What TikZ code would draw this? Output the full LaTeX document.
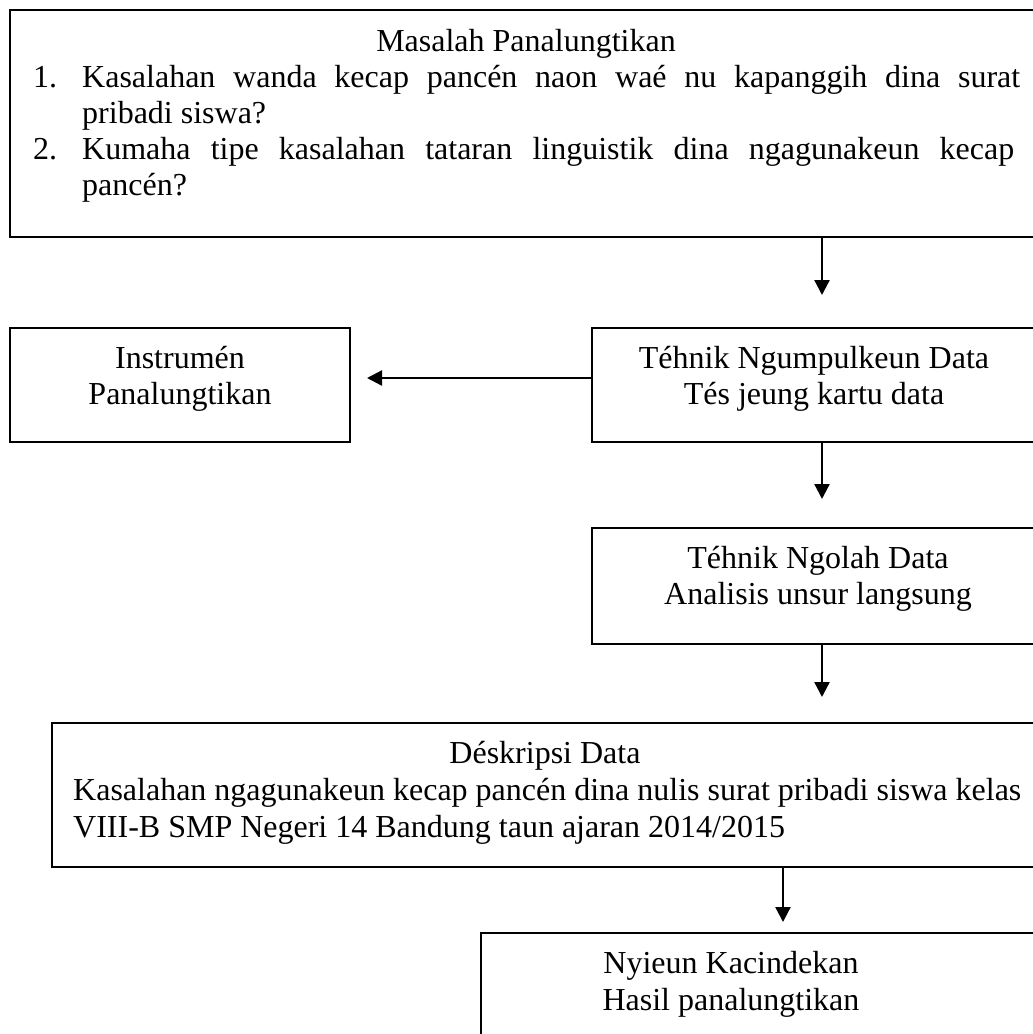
\documentclass[tikz,border=0pt]{standalone}
\usepackage{fontspec}
\setmainfont{Liberation Serif}
\usetikzlibrary{arrows.meta}
\begin{document}
\begin{tikzpicture}[x=1pt,y=1pt,
  box/.style={draw, line width=2.3pt, rectangle, anchor=north west, inner sep=0pt, outer sep=0pt},
  txt/.style={font=\fontsize{32}{36}\selectfont, inner sep=0pt, anchor=base},
  txtl/.style={txt, anchor=base west},
  arr/.style={line width=2.3pt, -{Triangle[length=15pt,width=15pt]}}]
\clip (0,0) rectangle (1033,-1034);
\fill[white] (0,0) rectangle (1033,-1034);
% boxes
\node[box, minimum width=1030pt, minimum height=227pt] (masalah) at (10,-10) {};
\node[box, minimum width=340pt, minimum height=114pt] (instr) at (10,-328) {};
\node[box, minimum width=450pt, minimum height=114pt] (ngum) at (592,-328) {};
\node[box, minimum width=450pt, minimum height=116pt] (ngolah) at (592,-528) {};
\node[box, minimum width=990pt, minimum height=144pt] (desk) at (52,-723) {};
\node[box, minimum width=560pt, minimum height=150pt] (nyieun) at (481,-933) {};
% texts
\node[txt] (t1) at (526,-51) {Masalah Panalungtikan};
\node[txtl] (n1) at (33,-87) {1.};
\node[txtl] (l1) at (82,-87) {\makebox[938pt][s]{Kasalahan wanda kecap pancén naon waé nu kapanggih dina surat}};
\node[txtl] (l2) at (82,-123) {pribadi siswa?};
\node[txtl] (n2) at (33,-159) {2.};
\node[txtl] (l3) at (82,-159) {\makebox[932pt][s]{Kumaha tipe kasalahan tataran linguistik dina ngagunakeun kecap}};
\node[txtl] (l4) at (82,-195) {pancén?};
\node[txt] (i1) at (180,-368) {Instrumén};
\node[txt] (i2) at (180,-404) {Panalungtikan};
\node[txt] (g1) at (814,-368) {Téhnik Ngumpulkeun Data};
\node[txt] (g2) at (814,-404) {Tés jeung kartu data};
\node[txt] (o1) at (818,-568) {Téhnik Ngolah Data};
\node[txt] (o2) at (818,-604) {Analisis unsur langsung};
\node[txt] (d1) at (545,-763) {Déskripsi Data};
\node[txtl] (d2) at (73,-800) {Kasalahan ngagunakeun kecap pancén dina nulis surat pribadi siswa kelas};
\node[txtl] (d3) at (73,-837) {VIII-B SMP Negeri 14 Bandung taun ajaran 2014/2015};
\node[txt] (h1) at (731,-973) {Nyieun Kacindekan};
\node[txt] (h2) at (731,-1010) {Hasil panalungtikan};
% connectors
\coordinate (c1) at (822,0);
\coordinate (c2) at (783,0);
\draw[arr] (masalah.south -| c1) -- ([yshift=33pt]ngum.north -| c1);
\draw[arr] ([yshift=7pt]ngum.west) -- ([xshift=17pt,yshift=7pt]instr.east);
\draw[arr] (ngum.south -| c1) -- ([yshift=29pt]ngolah.north -| c1);
\draw[arr] (ngolah.south -| c1) -- ([yshift=26pt]desk.north -| c1);
\draw[arr] (desk.south -| c2) -- ([yshift=11pt]nyieun.north -| c2);
\end{tikzpicture}
\end{document}
